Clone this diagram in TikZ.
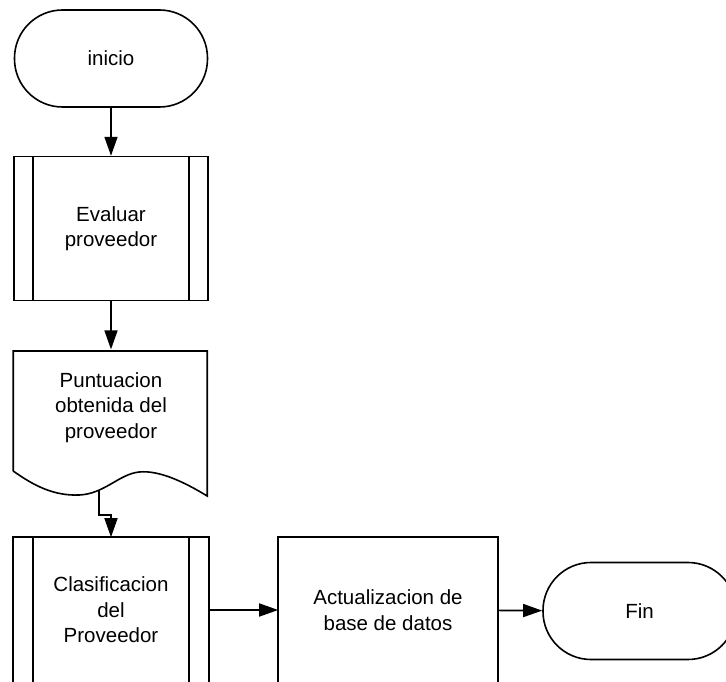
\documentclass[tikz,border=0pt]{standalone}
\usepackage{fontspec}
\setmainfont{Liberation Sans}
\usetikzlibrary{positioning,arrows.meta,calc}

\begin{document}
\begin{tikzpicture}[
  x=1pt, y=-1pt,
  line width=1.6pt,
  node distance=48pt,
  every node/.style={align=center, font=\fontsize{20.5}{25.5}\selectfont},
  flecha/.style={-{Triangle[length=19pt,width=13pt]}},
  terminal/.style={draw, rounded corners=48pt, minimum width=193pt, minimum height=97pt},
  subproceso/.style={draw, minimum width=194pt, minimum height=144pt},
  abierto/.style={minimum height=144pt},
  documento/.style={minimum width=194pt, minimum height=114pt}
]
\clip (0,0) rectangle (726,682);
\node[terminal] (inicio) at (111,58.5) {inicio};
\node[subproceso] (evaluar) [below=of inicio] {Evaluar\\proveedor};
\node[documento] (doc) [below=of evaluar] {Puntuacion\\obtenida del\\proveedor};
\node[abierto, minimum width=194pt] (clasif) at (111,610) {Clasificacion\\del\\Proveedor};
\node[abierto, minimum width=218pt] (actual) at (388,610) {Actualizacion de\\base de datos};
\node[terminal] (fin) at (639.5,611) {Fin};
% cajas cortadas por el borde inferior
\foreach \n in {clasif,actual}
  \draw ($(\n.south west)+(0,10)$) |- (\n.north east) -- ($(\n.south east)+(0,10)$);
% barras del subproceso
\foreach \n in {evaluar,clasif} {
  \draw ([xshift=20pt]\n.north west) -- ([xshift=20pt]\n.south west);
  \draw ([xshift=-20pt]\n.north east) -- ([xshift=-20pt]\n.south east);
}
\draw ([xshift=20pt]clasif.south west) -- ++(0,10);
\draw ([xshift=-20pt]clasif.south east) -- ++(0,10);
% contorno del documento
\draw[shift={(doc.south west)}] (0,6) -- (0,-114) -- (194,-114) -- (194,31)
  .. controls (171,17) and (146,5) .. (126,7)
  .. controls (106,9) and (91,29) .. (66,30)
  .. controls (41,31) and (21,21) .. (0,6);
\coordinate (docbot) at ($(doc.south west)+(86,26)$);
\draw[flecha] (inicio) -- (evaluar);
\draw[flecha] (evaluar) -- (doc);
\draw[flecha] (docbot) -- ++(0,24) -| (clasif.north);
\draw[flecha] (clasif) -- (actual);
\draw[flecha] (actual) -- (fin);
\end{tikzpicture}
\end{document}
